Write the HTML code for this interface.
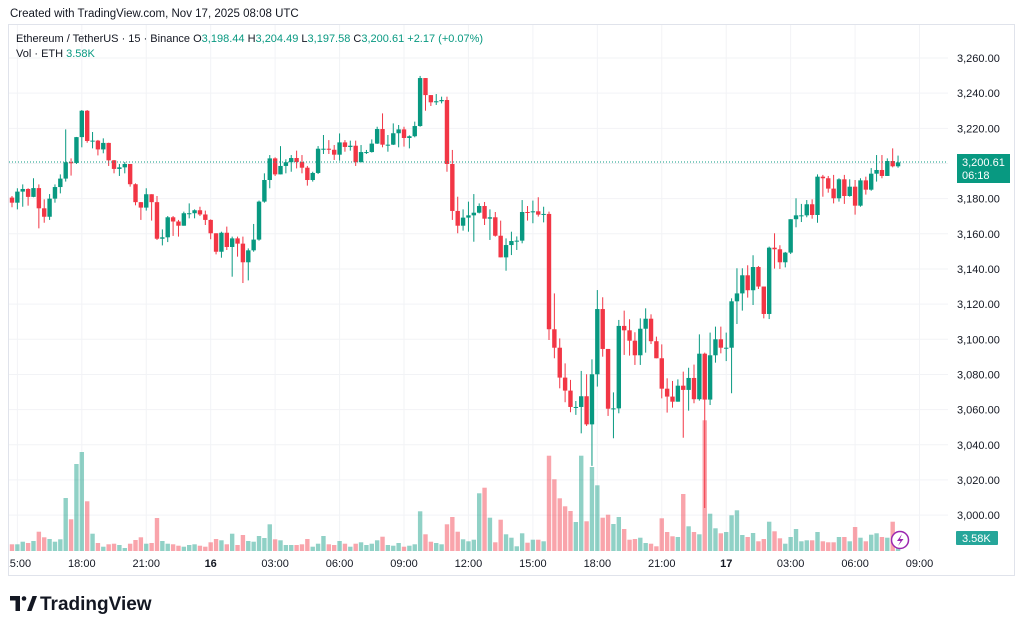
<!DOCTYPE html>
<html><head><meta charset="utf-8"><style>
html,body{margin:0;padding:0;background:#fff;width:1024px;height:630px;overflow:hidden;font-family:"Liberation Sans",sans-serif;}
svg text{font-family:"Liberation Sans",sans-serif;}
</style></head><body>
<svg id="chart" width="1024" height="630" viewBox="0 0 1024 630" xmlns="http://www.w3.org/2000/svg">
<defs><clipPath id="plotclip"><rect x="9" y="25" width="939" height="527"/></clipPath>
<clipPath id="timeclip"><rect x="9" y="552" width="939" height="22"/></clipPath></defs>
<text x="10" y="17" font-size="11.5" fill="#131722">Created with TradingView.com, Nov 17, 2025 08:08 UTC</text>
<rect x="8.5" y="24.5" width="1006" height="551" fill="none" stroke="#e0e3eb"/>
<g id="grid"></g>
<g id="vol" clip-path="url(#plotclip)"></g>
<g id="candles" clip-path="url(#plotclip)"></g>
<line x1="9" x2="948" y1="162" y2="162" stroke="#089981" stroke-width="1" stroke-dasharray="1,2"/>
<g id="yaxis"></g>
<g id="xaxis" clip-path="url(#timeclip)"></g>
<text x="16" y="42" font-size="11" fill="#131722">Ethereum / TetherUS · 15 · Binance <tspan>O</tspan><tspan fill="#089981">3,198.44</tspan> <tspan>H</tspan><tspan fill="#089981">3,204.49</tspan> <tspan>L</tspan><tspan fill="#089981">3,197.58</tspan> <tspan>C</tspan><tspan fill="#089981">3,200.61</tspan> <tspan fill="#089981">+2.17 (+0.07%)</tspan></text>
<text x="16" y="57" font-size="11" fill="#131722">Vol · ETH <tspan fill="#089981">3.58K</tspan></text>
<g>
<rect x="957" y="154" width="53" height="29" fill="#089981"/>
<text x="962" y="166" font-size="11" fill="#fff">3,200.61</text>
<text x="962" y="179" font-size="11" fill="#fff">06:18</text></g>
<g>
<rect x="956" y="531" width="42" height="14" rx="1" fill="#26a69a"/>
<text x="962" y="542" font-size="11" fill="#fff">3.58K</text></g>
<g>
<circle cx="900" cy="540" r="8.5" fill="#fff" stroke="#9c27b0" stroke-width="1.5"/>
<path d="M902 534 L897 541 L900.5 541 L898 546 L903.5 539 L900 539 Z" fill="#9c27b0"/></g>
<g>
<path d="M10 596 h10 v15 h-4.5 v-10.5 h-5.5 z" fill="#131722"/><circle cx="24" cy="598.5" r="2.3" fill="#131722"/>
<path d="M27 611 l5.5 -15 h4.5 l-5.5 15 z" fill="#131722"/>
<text x="40" y="610" font-size="19" font-weight="bold" fill="#131722">TradingView</text></g>
</svg>
<script>
const opens=[3180.6,3177.7,3184,3185.5,3181,3186,3174.5,3169.7,3180,3186.6,3191.4,3200.7,3200.3,3215,3230,3212.8,3213,3208,3211.7,3201.8,3196.9,3197.8,3199.7,3188.2,3178,3174.9,3182.5,3178,3157.2,3158,3169.4,3167,3164.6,3171.7,3171.7,3173.4,3171,3167.9,3160.3,3149.8,3160.6,3152.5,3157.4,3154.4,3143.8,3150.6,3156.7,3178.3,3190.6,3202.9,3193.8,3198.6,3200.7,3203.1,3200.8,3197.6,3190.6,3194.6,3208.4,3208.4,3207.8,3205,3212,3209.4,3210.1,3200.7,3206.5,3206.5,3211.3,3219.6,3210.7,3210.7,3217.2,3219.4,3214.5,3215.5,3221.3,3248.6,3238.9,3234.8,3235.4,3236.1,3199.7,3173,3164.6,3169.2,3170.5,3172,3175.8,3168.6,3169.4,3158.9,3146.6,3153.6,3155.9,3156.1,3172.4,3172.2,3172.8,3170.9,3171.3,3105.7,3095.2,3078.2,3070.8,3061.5,3061.5,3067.6,3051.6,3080.1,3117.2,3094.5,3060.5,3060.7,3107.6,3105.1,3099.2,3090.9,3106,3111.7,3098.9,3089.2,3071.9,3067.4,3064.5,3073.6,3071.2,3078,3065.9,3091.8,3065.7,3090.9,3100,3095.2,3095.2,3121.6,3126.1,3136.4,3127.9,3141.1,3130,3114.4,3152.1,3151.2,3143.8,3149.3,3168.3,3170.5,3170.5,3176.8,3170.7,3192.5,3191.6,3185.7,3180.2,3191,3181.5,3186.8,3176,3190.4,3185.1,3194.2,3196.3,3192.9,3201.4,3198.4];
const closes=[3177.7,3184,3185.5,3181,3186,3174.5,3169.7,3180,3186.6,3191.4,3200.7,3200.3,3215,3230,3212.8,3213,3208,3211.7,3201.8,3196.9,3197.8,3199.7,3188.2,3178,3174.9,3182.5,3178,3157.2,3158,3169.4,3167,3164.6,3171.7,3171.7,3173.4,3171,3167.9,3160.3,3149.8,3160.6,3152.5,3157.4,3154.4,3143.8,3150.6,3156.7,3178.3,3190.6,3202.9,3193.8,3198.6,3200.7,3203.1,3200.8,3197.6,3190.6,3194.6,3208.4,3208.4,3207.8,3205,3212,3209.4,3210.1,3200.7,3206.5,3206.5,3211.3,3219.6,3210.7,3210.7,3217.2,3219.4,3214.5,3215.5,3221.3,3248.6,3238.9,3234.8,3235.4,3236.1,3199.7,3173,3164.6,3169.2,3170.5,3172,3175.8,3168.6,3169.4,3158.9,3146.6,3153.6,3155.9,3156.1,3172.4,3172.2,3172.8,3170.9,3171.3,3105.7,3095.2,3078.2,3070.8,3061.5,3061.5,3067.6,3051.6,3080.1,3117.2,3094.5,3060.5,3060.7,3107.6,3105.1,3099.2,3090.9,3106,3111.7,3098.9,3089.2,3071.9,3067.4,3064.5,3073.6,3071.2,3078,3065.9,3091.8,3065.7,3090.9,3100,3095.2,3095.2,3121.6,3126.1,3136.4,3127.9,3141.1,3130,3114.4,3152.1,3151.2,3143.8,3149.3,3168.3,3170.5,3170.5,3176.8,3170.7,3192.5,3191.6,3185.7,3180.2,3191,3181.5,3186.8,3176,3190.4,3185.1,3194.2,3196.3,3192.9,3201.4,3198.4,3200.61];
const highs=[3181.5,3185.9,3188.1,3185.9,3191.6,3188.1,3179.6,3182.6,3188.1,3193.8,3219.4,3202.9,3215.1,3230.4,3230.4,3217.9,3213.4,3214.3,3211.8,3202,3199.7,3200.8,3199.7,3188.7,3178.1,3185.9,3182.5,3181.5,3162.5,3170.1,3170.1,3167.9,3172.6,3177.3,3173.9,3175.4,3173.2,3168.2,3160.3,3161.2,3164.1,3158.4,3158.4,3158.4,3151.7,3165.6,3178.9,3194.4,3204.8,3203.5,3209.9,3202.4,3204.8,3207.3,3204.8,3198.6,3195.3,3209.9,3216.2,3213.3,3210.5,3217.1,3213.3,3213,3213,3210.5,3207.7,3213.7,3220.9,3228.5,3216.2,3222.8,3221.9,3220.9,3216,3223.8,3249.8,3248.6,3238,3239.5,3238,3238,3207.7,3181.1,3173.9,3178.3,3182.6,3177.3,3178.1,3173.9,3172.4,3167.5,3157.4,3161.2,3158.5,3179.2,3175.8,3178.9,3180.8,3175.4,3172.6,3126.1,3100.5,3086.3,3076.9,3064.9,3082,3080.1,3088.6,3128,3123.9,3094.5,3069.8,3111,3116.3,3111.4,3104,3111.9,3117.6,3114.2,3101.5,3097.1,3077.8,3076.3,3077.2,3081.6,3083.8,3085.6,3102.8,3092.4,3103.8,3107.2,3107.2,3103.8,3123.3,3140.4,3140.4,3142.1,3147.8,3141.7,3130,3152.7,3160.3,3153.5,3149.7,3168.2,3180.2,3177,3179.2,3179.6,3193.8,3193.5,3192.9,3193.5,3191.6,3193.5,3191,3190.6,3191.6,3192.5,3197.4,3204.8,3204.8,3202.9,3208.6,3204.49];
const lows=[3175.1,3173.9,3175.4,3176,3180.8,3163.1,3166.3,3167.9,3177.7,3183,3189.7,3193.1,3199.7,3209.2,3211.8,3208.6,3204.6,3205.8,3198.6,3194.4,3192.9,3194.4,3186.8,3176.2,3167.9,3173.2,3167.5,3156.5,3153.4,3155.3,3158.8,3158.4,3164.6,3168.8,3168.8,3170.1,3165,3156.9,3148.3,3146.4,3150.8,3135.6,3147,3132,3133.5,3149.8,3156.1,3177.7,3185.9,3192.9,3194.8,3194.4,3195.3,3197.2,3194.4,3187.4,3189.7,3194,3205.4,3205.4,3202,3201.6,3206.7,3207.3,3198.6,3201.6,3205.4,3206.2,3211.1,3209.2,3206.7,3210.5,3209.2,3209.6,3208.6,3214.9,3220.9,3230,3232.7,3233.3,3234.2,3195.3,3167.9,3160.3,3161.8,3161.2,3155.5,3171.6,3165,3156.5,3158.4,3146.6,3139,3147.9,3150.8,3154.6,3167.5,3166,3169.8,3166.5,3099.6,3089.2,3072.1,3064.2,3058.5,3057,3046.5,3050.7,3028,3073.1,3090.1,3056.4,3043.7,3057.9,3091.1,3090.7,3085.4,3085.4,3092.4,3097.3,3089.2,3066.4,3058.3,3061.1,3064.5,3044,3059.4,3063.6,3065.1,3004,3062.6,3086.7,3092,3087.6,3069.3,3108.7,3116.3,3123.7,3119.5,3128.6,3111.9,3111.5,3140.2,3140,3140.9,3148.5,3163.7,3166.7,3169.4,3168.6,3166.3,3181.1,3183.4,3177.3,3178.3,3177,3181.1,3170.9,3175.4,3182.3,3184.5,3189.7,3191.6,3194.8,3197.8,3197.58];
const volumes=[6.7,6.7,9.3,8,10,19.3,13.7,12,9.3,11.7,53,31.7,87,99,49.7,17.3,8,4.3,6.7,7.3,6,3,7.3,11,13.7,7.3,8,33,10,7.3,6.7,5.3,4.3,6,6.7,5.3,4.3,8.7,12,10.7,6.7,17.3,6,16,10,9.3,15,13,26.7,11.7,10.7,6,6,6,6.7,12,4.3,7.3,15,6.7,6,10,7.3,4.3,7.3,8.7,6,7.3,10.7,14.3,6,5.3,8,4.3,5.3,6.7,39.7,16.7,9.3,8,6.7,26.7,34,19.3,11.7,9.7,11.3,57.7,63.3,33.3,8.7,31.3,16.7,13.3,4.7,17.7,8.3,11.3,11.3,9.7,95.3,71.7,52.7,44.7,40,29,95.3,29.7,84,65.7,33.3,36.3,27,34,22,11.3,12,13.3,8,7.3,4.7,32.7,19,14.7,14,57,24.7,19,16.7,130.7,37.3,22.7,17.7,19,35.7,40.7,16,14,18,9.7,12,29.3,19.7,12.7,7.3,14,22,9.7,10.7,10.7,19,9.7,8.7,8.7,14,14,9.7,24,13.3,9.7,16.3,17.7,14,13.3,29.3,4];
const priceTicks=[3000,3020,3040,3060,3080,3100,3120,3140,3160,3180,3200,3220,3240,3260];
const timeTickIndex=[1,13,25,37,49,61,73,85,97,109,121,133,145,157,169];
const timeTickLabels=["15:00","18:00","21:00","16","03:00","06:00","09:00","12:00","15:00","18:00","21:00","17","03:00","06:00","09:00"];

const NS="http://www.w3.org/2000/svg";
const xOf=i=>12+i*5.37;
const yOf=p=>58+(3260-p)*1.758;
const volBase=551, volScale=1.0;
const yVol=v=>volBase-v*volScale;
function mk(tag,attrs,parent){const e=document.createElementNS(NS,tag);for(const k in attrs)e.setAttribute(k,attrs[k]);parent.appendChild(e);return e;}
const grid=document.getElementById('grid'),yaxis=document.getElementById('yaxis'),xaxis=document.getElementById('xaxis');
const vol=document.getElementById('vol'),cg=document.getElementById('candles');
priceTicks.forEach(p=>{
  const l=mk('line',{x1:9,x2:948,y1:yOf(p),y2:yOf(p),stroke:'#f2f3f6','stroke-width':1},grid);
  
  
  const t=mk('text',{x:957,y:yOf(p)+4,'font-size':11,fill:'#131722'},yaxis);
  
  
  t.textContent=p.toLocaleString('en-US',{minimumFractionDigits:2});
});
timeTickIndex.forEach((ix,k)=>{
  const x=xOf(ix);
  const l=mk('line',{x1:x,x2:x,y1:25,y2:551,stroke:'#f2f3f6','stroke-width':1},grid);
  
  
  const lab=timeTickLabels[k];
  const t=mk('text',{x:x,y:567,'font-size':11,fill:'#131722','text-anchor':'middle','font-weight':(lab.length<3?'bold':'normal')},xaxis);
  
  
  t.textContent=lab;
});
closes.forEach((c,i)=>{
  const o=opens[i],up=c>=o,x=xOf(i);
  const col=up?'#089981':'#f23645';
  const vb=mk('rect',{x:x-2.2,y:yVol(volumes[i]),width:4.4,height:volumes[i]*volScale,fill:up?'rgba(8,153,129,0.45)':'rgba(242,54,69,0.45)'},vol);
  
  
  const h=Math.max(highs[i],o,c),lo=Math.min(lows[i],o,c);
  const w=mk('line',{x1:x,x2:x,y1:yOf(h),y2:yOf(lo),stroke:col,'stroke-width':1},cg);
  
  
  const top=yOf(Math.max(o,c)),bh=Math.max(1,Math.abs(yOf(o)-yOf(c)));
  const b=mk('rect',{x:x-2.2,y:top,width:4.4,height:bh,fill:col},cg);
  
  
});
</script>
</body></html>
